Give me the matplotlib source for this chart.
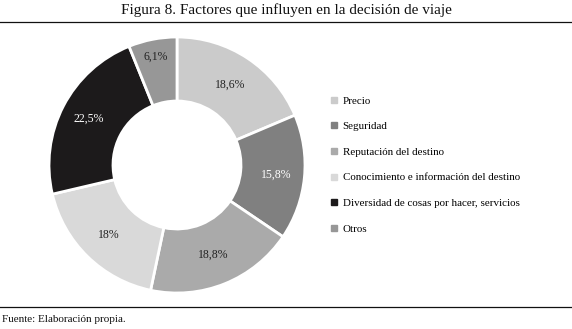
import matplotlib
matplotlib.use("Agg")
import matplotlib.pyplot as plt
from matplotlib.lines import Line2D
import numpy as np

categories = ["Precio", "Seguridad", "Reputación del destino",
              "Conocimiento e información del destino",
              "Diversidad de cosas por hacer, servicios", "Otros"]
values = [18.6, 15.8, 18.8, 18.0, 22.5, 6.1]
value_labels = ["18,6%", "15,8%", "18,8%", "18%", "22,5%", "6,1%"]
colors = ["#cbcbcb", "#808080", "#aaaaaa", "#d9d9d9", "#1c1a1b", "#979797"]
label_colors = ["#222222", "white", "#222222", "#222222", "white", "#222222"]
label_radius = [0.75, 0.78, 0.76, 0.76, 0.78, 0.86]

plt.rcParams['font.family'] = ['Liberation Serif', 'DejaVu Serif']

fig = plt.figure(figsize=(5.72, 3.29), dpi=100)
ax = fig.add_axes([49/572, 36/329, 256/572, 256/329])

wedges, texts = ax.pie(values, colors=colors, startangle=90, counterclock=False,
                       radius=1.0, wedgeprops=dict(width=0.5, edgecolor="white", linewidth=2))
for w, lab, lc, r in zip(wedges, value_labels, label_colors, label_radius):
    ang = np.deg2rad((w.theta1 + w.theta2) / 2)
    ax.text(r * np.cos(ang), r * np.sin(ang), lab, ha="center", va="center",
            fontsize=8.5, color=lc)
ax.set_xlim(-1, 1)
ax.set_ylim(-1, 1)
ax.set_aspect("equal")
ax.axis("off")

handles = [Line2D([0], [0], marker="s", linestyle="none", markersize=4.5,
                  markerfacecolor=c, markeredgecolor=c) for c in colors]
fig.legend(handles, categories, loc="upper left", bbox_to_anchor=(331/572, 1 - 96/329),
           frameon=False, fontsize=7.9, handlelength=0.6, handletextpad=0.45,
           labelspacing=1.45, borderaxespad=0, borderpad=0)

fig.text(0.5, 1 - 10/329, "Figura 8. Factores que influyen en la decisión de viaje",
         ha="center", va="center", fontsize=11, color="#111111")
fig.add_artist(Line2D([0, 1], [1 - 22/329, 1 - 22/329], transform=fig.transFigure,
                      color="#111111", linewidth=0.9))
fig.add_artist(Line2D([0, 1], [1 - 307/329, 1 - 307/329], transform=fig.transFigure,
                      color="#111111", linewidth=0.9))
fig.text(2/572, 1 - 320/329, "Fuente: Elaboración propia.", ha="left", va="center",
         fontsize=8, color="#111111")

fig.savefig("out.png", dpi=100, facecolor="white")
